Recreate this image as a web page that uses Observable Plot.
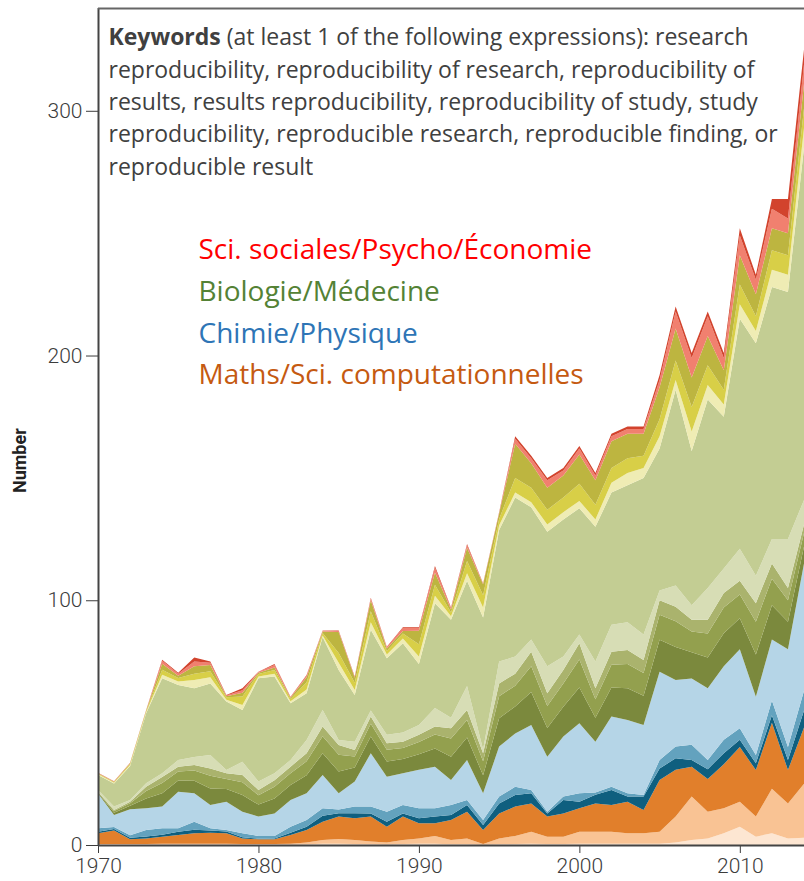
<!DOCTYPE html>
<html><head><meta charset="utf-8">
<script src="https://cdn.jsdelivr.net/npm/d3@7"></script>
<script src="https://cdn.jsdelivr.net/npm/@observablehq/plot@0.6"></script>
<style>body{margin:0;background:#fff;} #chart{width:804px;height:881px;overflow:hidden;}</style>
</head><body><div id="chart"></div>
<script>
const years = [1970,1971,1972,1973,1974,1975,1976,1977,1978,1979,1980,1981,1982,1983,1984,1985,1986,1987,1988,1989,1990,1991,1992,1993,1994,1995,1996,1997,1998,1999,2000,2001,2002,2003,2004,2005,2006,2007,2008,2009,2010,2011,2012,2013,2014];
const xTicks = [1970, 1980, 1990, 2000, 2010];
const yTicks = [0, 100, 200, 300];
const yTop = 342;

// layers, bottom to top
const layerNames = ["Maths 1","Maths 2","Maths 3","Chimie 1","Chimie 2","Chimie 3","Bio 1","Bio 2","Bio 3","Bio 4","Bio 5","Soc 1","Soc 2","Soc 3","Soc 4","Soc 5"];
const layerColors = ["#fde6d2","#f9c394","#e17f2b","#0f5f7f","#63a2be","#b5d5e7","#7b893d","#93a04e","#aab36d","#d7ddb5","#c3cd93","#efecb4","#d8cf47","#bdb540","#f1806f","#d2432d"];

const maths1 = [.2,.2,.2,.2,.2,.2,.2,.2,.2,.2,.2,.2,.2,.3,.5,.5,.4,.3,.2,.4,.5,.5,.3,.3,.1,.3,.4,.5,.4,.4,.5,.5,.5,.5,.5,.5,1,2,2.7,4.8,7.5,3.4,4.8,2.7,3];
const maths2 = [.2,.2,.2,.2,.3,.3,.3,.3,.3,.2,.2,.2,.3,.7,1.5,2,1.6,1.1,.8,1.6,2.2,3.2,1.7,2.4,.3,2.4,3.3,4.9,3,3,4.9,4.9,4.9,4.3,4.3,4.9,10.6,17.8,10.9,10.2,10.2,8.2,18.2,14.3,22];
const maths3 = [4.4,5.5,1.9,2.3,2.9,3.6,4.3,4.5,4.3,2.3,1.9,1.9,3.6,5.1,7.5,9.1,8.9,10.2,6.5,9.6,6.2,5.2,8.2,10.9,5.7,10.2,12,11.6,8.2,9.5,9.6,11.6,10.9,12.9,9.5,21.2,19.1,12.2,13.4,18,22.3,19,27,13.6,23];
const chim1 = [.6,.6,.7,.8,.8,1.3,1.4,.9,.7,.5,.3,.4,.9,1.4,2.5,1.4,2.1,1.3,2,1.3,2,2.7,2.1,2.7,2.1,4.1,4.7,4.1,1.3,5.5,2.7,3.5,6.2,2.1,5.5,4.7,4.7,2.7,4,4.5,3,2.8,3,4.1,7];
const chim2 = [1.4,.9,1,2.6,2.6,1.4,3.3,.9,.6,1.6,1.1,1,2.5,2.7,3,1.5,2.7,2.8,4.1,3.4,4.1,3.4,4,2.1,2,2.8,3.4,1.4,.7,1.4,3.4,1,1.3,1.3,.6,3.4,4.8,6.3,3.7,5.5,4.7,3.4,6,5.3,8];
const chim3 = [14.2,4.9,10.6,8.9,8.9,15,11.6,9.5,11.6,8.8,7.9,9.2,10.9,10.9,13.6,6.6,10.2,21.8,14.3,13,15.7,17,10.3,16.3,10.9,20.4,21.8,26.5,22.5,24.5,28.6,20.7,28.7,30,28.6,36.1,27.2,27,29.3,30,32.3,23.8,25,40,52];
const bio1 = [.4,.9,1.4,4,5.4,4.6,5.2,6.8,5.2,6.8,4.9,6.1,6.1,7.4,8.9,8.9,5.8,6.8,6.2,5.8,6.4,7.4,9.5,9.2,7.4,11.6,11,13.5,11.7,12.2,14.7,9.8,11.9,12.9,12,13.1,13.5,10.8,12.6,13.5,12.6,17.2,14,11.2,7];
const bio2 = [.3,.7,1.1,3.1,4.2,3.6,4.1,5.2,4.1,5.2,3.8,4.8,4.8,5.7,6.9,6.9,4.5,5.2,4.8,4.5,5,5.7,7.4,7.2,5.7,9,8.5,10.5,9,9.5,11.4,7.6,9.3,10,9.3,10.2,10.5,8.4,9.8,10.5,9.8,13.4,10.8,8.8,5.5];
const bio3 = [.1,.4,.6,1.7,2.5,2,2.3,3,2.3,3,2.2,2.7,2.7,3.3,4,4,2.6,3,2.7,2.6,2.9,3.3,4.2,4.1,3.3,5.2,4.9,6,5.2,5.5,6.6,4.4,5.3,5.7,5.3,5.9,6,4.8,5.6,6,5.6,7.6,6.2,5,3.5];
const bio4 = [.7,1.4,.7,1.4,1.5,2.7,3.3,5.5,1.3,5.4,3.4,2.8,2.7,5.4,6.8,2,3.4,2.5,3.4,3.8,4,7.6,4.3,9.8,1.5,9,7,5,11,5.5,3.6,11,11,11.3,10.4,4,8.6,6,13,10,13,11.2,10,20,10];
const bio5 = [6.1,9.4,13.9,28.6,38.8,30.7,28,29.2,28,21.2,42.2,39.5,23.2,19.1,29.8,28.6,19.1,33,31.3,36.4,25,42.8,40,43,54,53.7,65,54,55,56,51.6,55,54,56,64,58,80,63,77,62,94,95,103,101,144];
const soc1 = [.3,.3,.4,.4,1.5,1.4,3.4,2.5,.8,2,.8,1.2,.8,1.5,.6,3,2,3,1.5,2,3,3,1.5,3,4,2,2,2,3,3,3,3,4,5,4,5,4,8,6,5,6,5,7,7,8];
const soc2 = [.3,.3,.5,.5,2,1.4,2.6,2.5,1,3.5,1,1.5,1,3,1,4,3,4.5,1.5,2,5,4.5,1.5,5,5,2.5,6,6,6,6,7,6,6,6,5,7,8,10,8,6,8,6,8,8,8];
const soc3 = [.1,.1,.2,.3,2.5,1,3,2.5,.4,1.5,.5,1,.5,2,.6,8.5,2,4.5,1,1,5.5,5,1.2,5.5,4.5,2.3,14,10,9,9,12,10,11,10,9,13,13,12,12,8,12,9,9,9,10];
const soc4 = [.1,.1,.1,.1,1.2,.8,2,1,.3,1,.3,1,.3,.7,.3,.4,.3,.7,.5,1.3,1.2,2,.5,1,.3,.3,2,2,3,2,2.4,2,2,2,2,3,7,8,8,5,8,6,8,6,8];
const soc5 = [.1,.1,.1,.1,.4,.4,1.6,.5,.2,.8,.1,.5,.1,.3,.1,.2,.2,.3,.2,.3,.3,.7,.3,.5,.2,.2,1,1,1,1,1,1,1,1,1,2,2,2,2,2,3,2,4,8,6];

const keywordsText = "Keywords (at least 1 of the following expressions): research\nreproducibility, reproducibility of research, reproducibility of\nresults, results reproducibility, reproducibility of study, study\nreproducibility, reproducible research, reproducible finding, or\nreproducible result";
const legendLabels = ["Sci. sociales/Psycho/Économie","Biologie/Médecine","Chimie/Physique","Maths/Sci. computationnelles"];
const legendColors = ["#ff0000","#548235","#2e75b6","#c55a11"];

const seriesValues = [maths1,maths2,maths3,chim1,chim2,chim3,bio1,bio2,bio3,bio4,bio5,soc1,soc2,soc3,soc4,soc5];
const data = seriesValues.flatMap((vals, i) => vals.map((v, j) => ({year: years[j], layer: layerNames[i], value: v})));

const chart = Plot.plot({
  width: 804, height: 881,
  marginLeft: 98, marginRight: 0, marginTop: 8, marginBottom: 36,
  style: {fontFamily: "Roboto", fontSize: "21px", fontWeight: 300, color: "#3c3c3c", background: "#fff"},
  x: {domain: [1970, 2014], ticks: xTicks, tickFormat: d => String(d), tickSize: 8, tickPadding: 5, label: null},
  y: {domain: [0, yTop], ticks: yTicks, tickSize: 12, tickPadding: 4, label: null},
  color: {domain: layerNames, range: layerColors},
  marks: [
    Plot.areaY(data, {x: "year", y: "value", z: "layer", fill: "layer"}),
    Plot.ruleX([1970], {stroke: "#444", strokeWidth: 2}),
    Plot.ruleY([0], {stroke: "#444", strokeWidth: 2}),
    Plot.ruleY([yTop], {stroke: "#666", strokeWidth: 2}),
    Plot.text([keywordsText], {text: d => d, frameAnchor: "top-left", dx: 10, dy: 14, lineAnchor: "top", textAnchor: "start",
      fontSize: 23, lineHeight: 1.405, fill: "#404040", fontFamily: "Open Sans", fontWeight: "normal"}),
    ...legendLabels.map((lab, i) => Plot.text([lab], {text: d => d, frameAnchor: "top-left", dx: 100, dy: 231 + i * 41.7,
      lineAnchor: "top", textAnchor: "start", fontSize: 28, fill: legendColors[i], fontFamily: "Open Sans", fontWeight: "normal"})),
    Plot.text(["Number"], {text: d => d, frameAnchor: "left", dx: -78, dy: 66, rotate: -90, fontSize: 18,
      fontWeight: "bold", fill: "#222", fontFamily: "Roboto"})
  ]
});
document.getElementById("chart").appendChild(chart);

// bold "Keywords" at the start of the first line
for (const t of chart.querySelectorAll("text")) {
  if (!t.textContent.startsWith("Keywords")) continue;
  const line = t.querySelector("tspan") || t;
  const rest = line.textContent.replace(/^Keywords/, "");
  const ns = "http://www.w3.org/2000/svg";
  const b = document.createElementNS(ns, "tspan");
  b.setAttribute("font-weight", "bold");
  b.textContent = "Keywords";
  const r = document.createElementNS(ns, "tspan");
  r.textContent = rest;
  line.textContent = "";
  line.appendChild(b); line.appendChild(r);
  break;
}
</script>
</body></html>
